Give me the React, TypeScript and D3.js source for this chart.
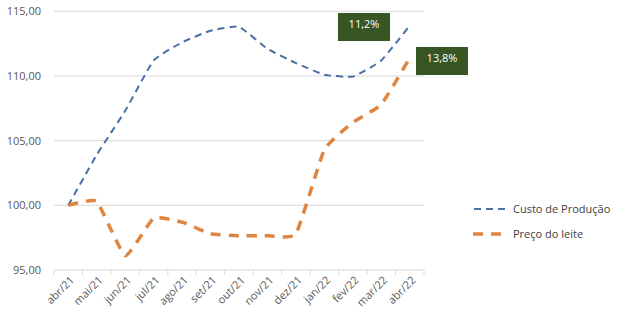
import React from "react";
import * as d3 from "d3";

const categories = ["abr/21","mai/21","jun/21","jul/21","ago/21","set/21","out/21","nov/21","dez/21","jan/22","fev/22","mar/22","abr/22"];
const custo = [100, 103.9, 107.3, 111.2, 112.6, 113.5, 113.8, 112.1, 111.0, 110.1, 109.95, 111.2, 113.9];
const preco = [100, 100.3, 96.1, 99.0, 98.7, 97.8, 97.65, 97.65, 97.8, 104.3, 106.4, 107.8, 111.4];
const yTicks = [95, 100, 105, 110, 115];
const seriesNames = ["Custo de Produção", "Preço do leite"];
const annotations = [
  { text: "11,2%", x: 338, y: 13 },
  { text: "13,8%", x: 416, y: 47 },
];

const W = 622, H = 321;
const left = 54, right = 424, top = 11.3, bottom = 270;
const font = "'Open Sans', 'Noto Sans', sans-serif";

export default function App() {
  const x = d3.scaleBand<string>().domain(categories).range([left, right]);
  const y = d3.scaleLinear().domain([95, 115]).range([bottom, top]);
  const cx = (i: number) => (x(categories[i]) as number) + x.bandwidth() / 2;
  const line = d3.line<number>().x((_, i) => cx(i)).y((d) => y(d)).curve(d3.curveCardinal.tension(0.6));
  const fmt = (v: number) => v.toFixed(2).replace(".", ",");
  return (
    <div style={{ position: "fixed", left: 0, top: 0 }}>
      <svg width={W} height={H} style={{ display: "block", background: "#fff" }} fontFamily={font}>
        {yTicks.map((t) => (
          <g key={t}>
            <line x1={left} x2={right} y1={y(t)} y2={y(t)} stroke="#d9d9d9" strokeWidth={1} />
            <text x={41} y={y(t)} dy="0.35em" textAnchor="end" fontSize={11} fill="#595959">{fmt(t)}</text>
          </g>
        ))}
        {d3.range(categories.length + 1).map((i) => {
          const xx = left + i * x.step();
          return <line key={i} x1={xx} x2={xx} y1={bottom} y2={bottom + 5} stroke="#d9d9d9" />;
        })}
        {categories.map((c, i) => (
          <text key={c} transform={`translate(${cx(i) + 4},${bottom + 8}) rotate(-45)`} textAnchor="end" dy="0.35em" fontSize={11} fill="#595959">{c}</text>
        ))}
        <path d={line(custo) || ""} fill="none" stroke="#4a6fa5" strokeWidth={2} strokeDasharray="7 5" />
        <path d={line(preco) || ""} fill="none" stroke="#e08540" strokeWidth={3.5} strokeDasharray="10 8" />
        {annotations.map((a) => (
          <g key={a.text}>
            <rect x={a.x} y={a.y} width={52} height={28} fill="#375623" />
            <text x={a.x + 26} y={a.y + 11} dy="0.35em" textAnchor="middle" fontSize={11} fill="#fff">{a.text}</text>
          </g>
        ))}
        <g>
          <line x1={474} x2={510} y1={209} y2={209} stroke="#4a6fa5" strokeWidth={2} strokeDasharray="7 5" />
          <text x={513} y={209} dy="0.35em" fontSize={11} fill="#404040">{seriesNames[0]}</text>
          <line x1={473} x2={509} y1={234} y2={234} stroke="#e08540" strokeWidth={3.5} strokeDasharray="10 8" />
          <text x={513} y={234} dy="0.35em" fontSize={11} fill="#404040">{seriesNames[1]}</text>
        </g>
      </svg>
    </div>
  );
}
